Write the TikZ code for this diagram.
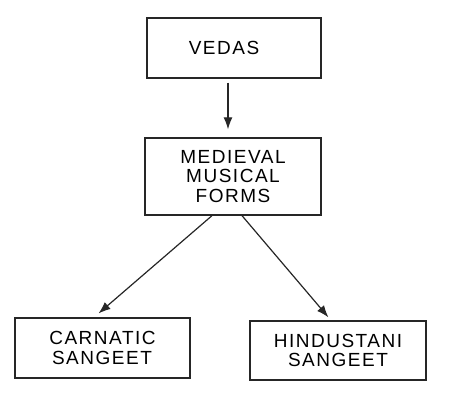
\documentclass[tikz,border=0pt]{standalone}
\usepackage{fontspec}
\setmainfont{Liberation Sans}[LetterSpace=8]
\usetikzlibrary{arrows.meta}
\tikzset{
  stagebox/.style={draw=black!85, line width=1.3pt, align=center, inner sep=0pt,
    font=\fontsize{19}{19.5}\selectfont},
  flowarrow/.style={draw=black!85, line width=1.2pt, -{Latex[length=12pt,width=9pt]}}
}
\begin{document}
\begin{tikzpicture}[x=1pt,y=1pt]
  \useasboundingbox (0,0) rectangle (450,402);
  % boxes
  \node[stagebox, minimum width=174pt, minimum height=60pt] (vedas) at (234,354) {VEDAS\hspace*{20pt}};
  \node[stagebox, minimum width=176pt, minimum height=77pt] (medieval) at (233,225.5) {MEDIEVAL\\MUSICAL\\FORMS};
  \node[stagebox, minimum width=175pt, minimum height=60pt] (carnatic) at (102.5,54) {CARNATIC\\SANGEET\hspace*{1pt}};
  \node[stagebox, minimum width=176pt, minimum height=59pt] (hindustani) at (338,51.5) {HINDUSTANI\\SANGEET};
  % arrows
  \draw[flowarrow, shorten <=4pt, shorten >=8pt] ([xshift=-6pt]vedas.south) -- ([xshift=-5pt]medieval.north);
  \draw[flowarrow, shorten >=6pt] ([xshift=-21pt]medieval.south) -- ([xshift=-8.5pt]carnatic.north);
  \draw[flowarrow, shorten >=4pt] ([xshift=9pt]medieval.south) -- ([xshift=-7pt]hindustani.north);
\end{tikzpicture}
\end{document}
